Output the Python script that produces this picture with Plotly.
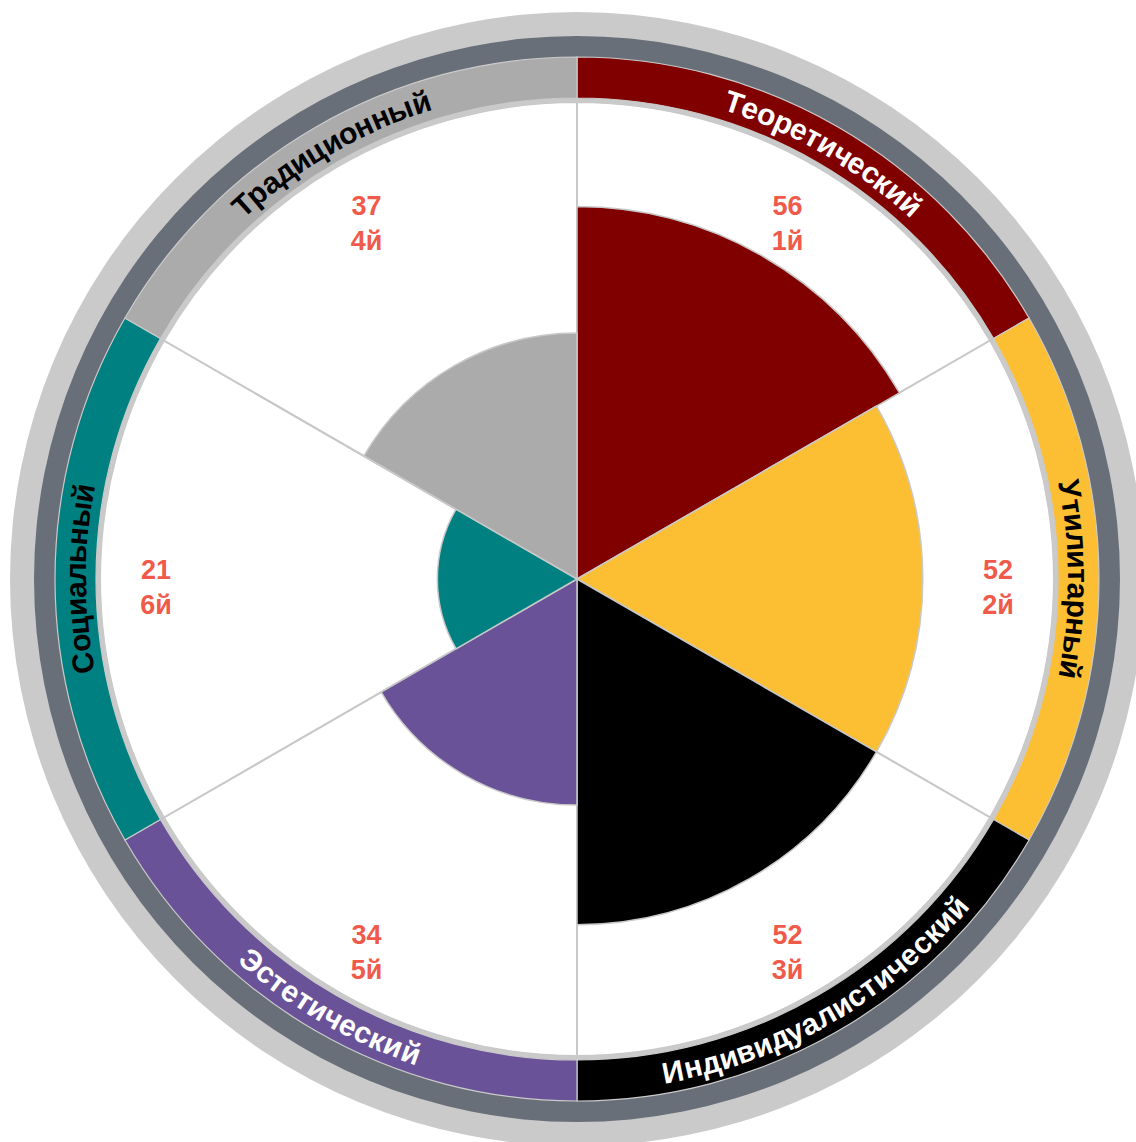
import math
import plotly.graph_objects as go

# Value orientations, clockwise from the top
categories = ["Теоретический", "Утилитарный", "Индивидуалистический",
              "Эстетический", "Социальный", "Традиционный"]
scores = [56, 52, 52, 34, 21, 37]
ranks = ["1й", "2й", "3й", "5й", "6й", "4й"]
colors = ["#800000", "#fcbf33", "#000000", "#6a5299", "#008080", "#ababab"]
name_colors = ["white", "black", "white", "white", "black", "black"]

# Canvas and ring geometry (pixels)
W, H = 1136, 1142
CX, CY = 577, 579
PX_PER_UNIT = 6.65
R_OUTER = 567      # light grey rim
R_DARK = 543       # dark grey rim = polar edge
R_BAND_OUT = 522   # coloured name band
R_BAND_IN = 481
R_WHITE = 477      # white field
R_SCORE_TXT = 421  # score / rank text ring
TXT_DROP = 11      # score text sits a little below its ring point

FONT = "Liberation Sans, Arial, sans-serif"
GRID = "#c8c8c8"

n = len(categories)
step = 360 / n
thetas = [step * (i + 0.5) for i in range(n)]
u = lambda px: px / PX_PER_UNIT

fig = go.Figure()

# white field with spoke lines
fig.add_trace(go.Barpolar(
    r=[u(R_WHITE)] * n, theta=thetas, width=[step] * n,
    marker=dict(color="white", line=dict(color=GRID, width=2)),
    hoverinfo="skip", showlegend=False))
# thin light ring between field and band
fig.add_trace(go.Barpolar(
    r=[u(R_BAND_IN - R_WHITE)] * n, base=[u(R_WHITE)] * n, theta=thetas,
    width=[step] * n,
    marker=dict(color="#cbcaca", line=dict(color="#cbcaca", width=0.5)),
    hoverinfo="skip", showlegend=False))
# coloured name band
fig.add_trace(go.Barpolar(
    r=[u(R_BAND_OUT - R_BAND_IN)] * n, base=[u(R_BAND_IN)] * n, theta=thetas,
    width=[step] * n,
    marker=dict(color=colors, line=dict(color="#cbcaca", width=1.2)),
    hoverinfo="skip", showlegend=False))
# score bars
fig.add_trace(go.Barpolar(
    r=scores, theta=thetas, width=[step] * n,
    marker=dict(color=colors, line=dict(color=GRID, width=1.5)),
    customdata=categories,
    hovertemplate="%{customdata}: %{r}<extra></extra>", showlegend=False))

# score / rank labels: ring point shifted downward on screen
txt_r, txt_t = [], []
for th in thetas:
    a = math.radians(th)
    dx = R_SCORE_TXT * math.sin(a)
    dy = -R_SCORE_TXT * math.cos(a) + TXT_DROP
    txt_r.append(u(math.hypot(dx, dy)))
    txt_t.append(math.degrees(math.atan2(dx, -dy)) % 360)
fig.add_trace(go.Scatterpolar(
    r=txt_r, theta=txt_t, mode="text",
    text=[f"<b>{s}</b><br><b>{rk}</b>" for s, rk in zip(scores, ranks)],
    textposition="middle center",
    textfont=dict(family=FONT, size=27, color="#ef5a4b"),
    hoverinfo="skip", showlegend=False))

# Approximate advance widths (per 1000 em) of a bold Arial-metric face
CHAR_W = {
    "Т": 611, "У": 667, "И": 722, "Э": 722, "С": 722,
    "а": 556, "в": 583, "д": 615, "е": 556, "и": 615, "й": 615, "к": 490,
    "л": 615, "н": 615, "о": 611, "п": 615, "р": 611, "с": 556, "т": 479,
    "у": 556, "ц": 615, "ч": 583, "ь": 583, "ы": 823, "ю": 844,
}


def arc_text(text, phi_c, r_px, size, color, flip):
    widths = [CHAR_W.get(ch, 590) / 1000 * size for ch in text]
    total = sum(widths)
    pos = -total / 2
    out = []
    for ch, w in zip(text, widths):
        s = pos + w / 2
        pos += w
        d = math.degrees(s / r_px)
        phi = phi_c - d if flip else phi_c + d
        a = math.radians(phi)
        x = CX + r_px * math.sin(a)
        y = CY - r_px * math.cos(a)
        rot = phi - 180 if flip else phi
        rot = ((rot + 180) % 360) - 180
        out.append(dict(
            x=x / W, y=1 - y / H, xref="paper", yref="paper",
            text=f"<b>{ch}</b>", textangle=rot, showarrow=False,
            xanchor="center", yanchor="middle",
            font=dict(family=FONT, size=size, color=color)))
    return out


annotations = []
r_text = (R_BAND_OUT + R_BAND_IN) / 2
for name, th, col in zip(categories, thetas, name_colors):
    flip = 90 < th < 270
    annotations += arc_text(name, th, r_text, 30, col, flip)

fig.update_layout(
    width=W, height=H,
    margin=dict(l=0, r=0, t=0, b=0),
    paper_bgcolor="white",
    showlegend=False,
    shapes=[dict(
        type="circle", xref="paper", yref="paper", layer="below",
        x0=(CX - R_OUTER) / W, x1=(CX + R_OUTER) / W,
        y0=1 - (CY + R_OUTER) / H, y1=1 - (CY - R_OUTER) / H,
        fillcolor="#cbcaca", line=dict(width=0))],
    polar=dict(
        domain=dict(x=[(CX - R_DARK) / W, (CX + R_DARK) / W],
                    y=[1 - (CY + R_DARK) / H, 1 - (CY - R_DARK) / H]),
        bgcolor="#686f79",
        bargap=0,
        barmode="overlay",
        radialaxis=dict(range=[0, u(R_DARK)], visible=False),
        angularaxis=dict(direction="clockwise", rotation=90,
                         showgrid=False, showticklabels=False,
                         showline=False, ticks=""),
    ),
    annotations=annotations,
)

fig.write_html("out.html")
